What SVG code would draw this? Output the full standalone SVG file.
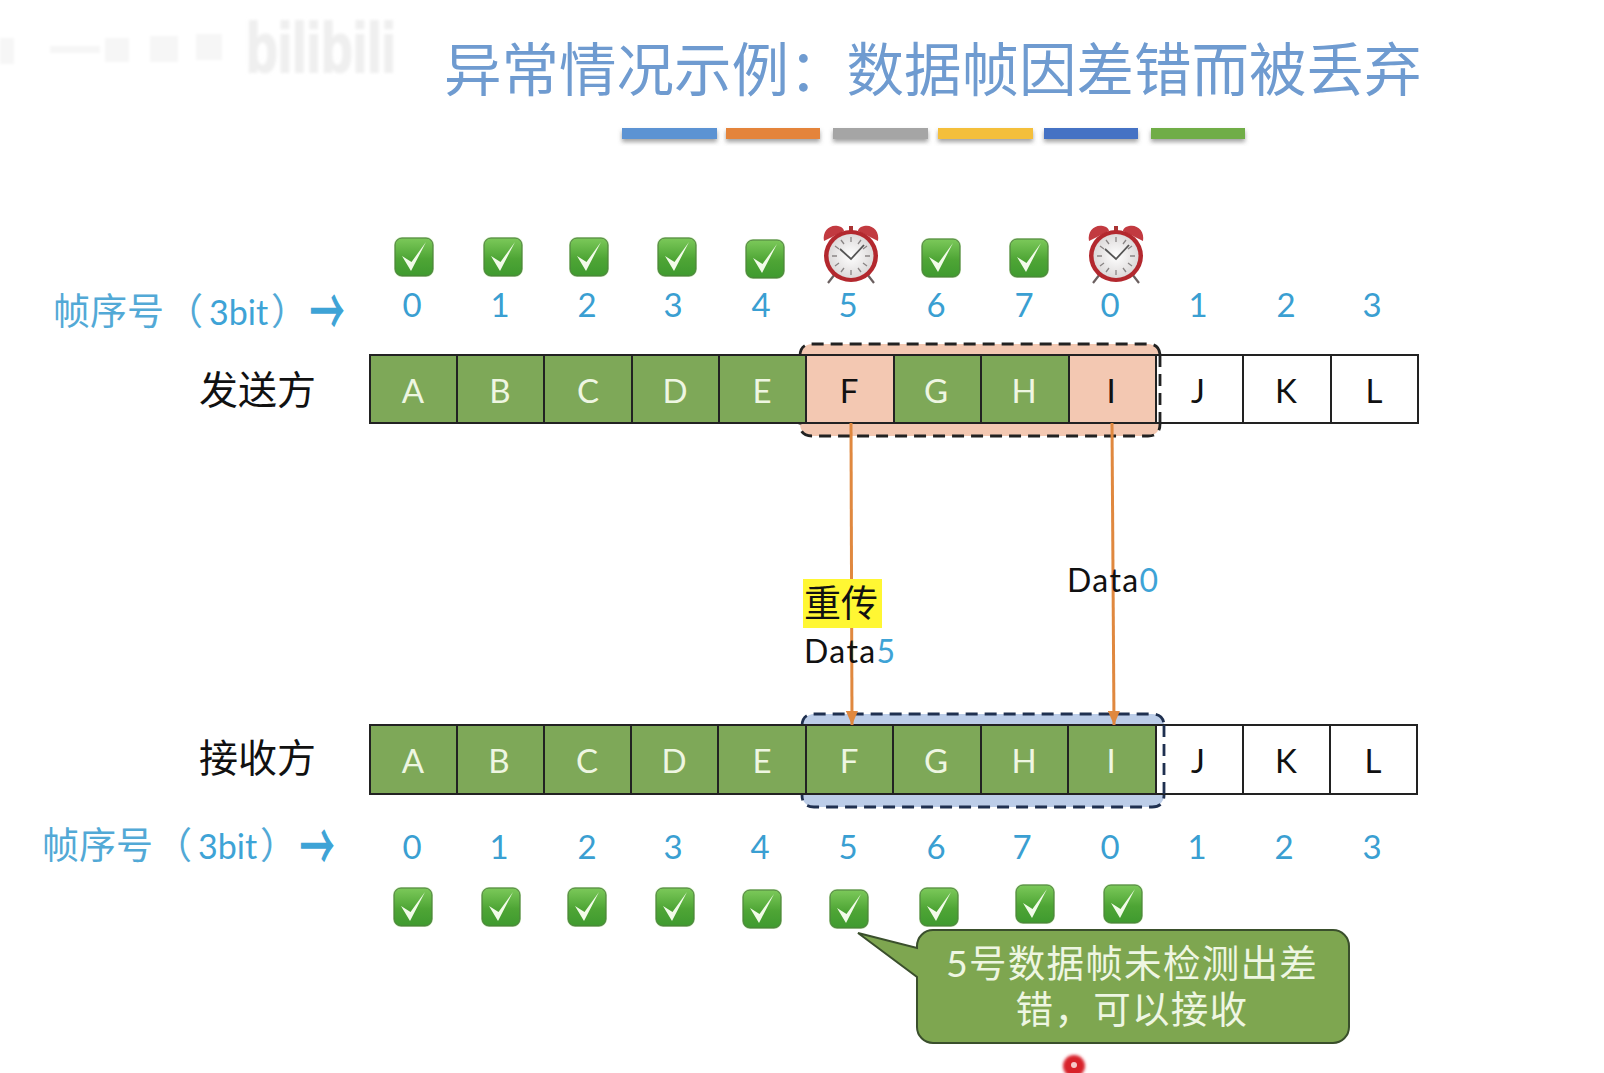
<svg xmlns="http://www.w3.org/2000/svg" width="1604" height="1073" viewBox="0 0 1604 1073">
<style>
text{font-family:Lato,"Noto Sans CJK SC","Liberation Sans",sans-serif}
.cn{font-family:"Noto Sans CJK SC",sans-serif}
.title{font-size:57.5px;fill:#6f9bd0}
.seq{font-size:34px;fill:#3ea3d6}
.seq .h{font-size:37px;font-family:"Noto Sans CJK SC",sans-serif;fill:#52a9d6}
.ar{font-size:34px;font-family:"Noto Sans CJK SC",sans-serif;fill:#3ea3d6;stroke:#3ea3d6;stroke-width:.9}
.num{font-size:33px;fill:#3a9fd2;text-anchor:middle}
.side{font-size:39px;fill:#111}
.cell{stroke:#222;stroke-width:2}
.g{fill:#7ea858}.p{fill:#f3c8b2}.w{fill:#fff}
.lg{font-size:33px;fill:#eef6e2;text-anchor:middle}
.lb{font-size:33px;fill:#111;text-anchor:middle}
.data{font-size:32px;fill:#111;letter-spacing:1.4px}
.link{stroke:#e0883f;stroke-width:3;fill:none;marker-end:url(#ah)}
.bar{filter:url(#sh)}
.co{font-size:37.5px;fill:#eef6e2;text-anchor:middle;letter-spacing:1.3px}
.dash{fill:none;stroke-width:2.8;stroke-dasharray:12 7}
</style>
<defs>
<marker id="ah" markerUnits="userSpaceOnUse" markerWidth="14" markerHeight="12" refX="14" refY="6" orient="auto" viewBox="0 0 14 12"><path d="M0 0 14 6 0 12Z" fill="#e0883f"/></marker>
<linearGradient id="gb" x1="0" y1="0" x2="0" y2="1"><stop offset="0" stop-color="#7cc95a"/><stop offset=".55" stop-color="#4ea535"/><stop offset="1" stop-color="#3f9a2f"/></linearGradient>
<radialGradient id="face" cx=".5" cy=".5" r=".55"><stop offset="0" stop-color="#fff"/><stop offset="1" stop-color="#d9d6d6"/></radialGradient>
<filter id="sh" x="-5%" y="-30%" width="110%" height="190%"><feDropShadow dx="0" dy="3" stdDeviation="2" flood-color="#555" flood-opacity=".55"/></filter>
<filter id="bl2" x="-50%" y="-50%" width="200%" height="200%"><feGaussianBlur stdDeviation="1.4"/></filter>
<symbol id="ok" viewBox="0 0 38 38" overflow="visible">
<rect x="-1" y="-1" width="40" height="40" rx="8" fill="#b6e6a0" opacity=".7"/>
<rect x="0" y="0" width="38" height="38" rx="7" fill="url(#gb)" stroke="#4f7d3f" stroke-width="1"/>
<path d="M7 18 16 33 31 4 16.5 24Z" fill="#f2fbe9"/>
</symbol>
<symbol id="clock" viewBox="0 0 58 60" overflow="visible">
<path d="M13 50 6 59M45 50 52 59" stroke="#6b6060" stroke-width="2.2"/>
<path d="M2 17C0 7 8 0 16 2 21 3 22 6 22 7Z" fill="#c23a40"/>
<path d="M56 17C58 7 50 0 42 2 37 3 36 6 36 7Z" fill="#c23a40"/>
<rect x="27" y="2" width="4" height="5" fill="#a33"/>
<ellipse cx="29" cy="32" rx="27" ry="26" fill="#b3282e"/>
<ellipse cx="29" cy="32" rx="22.5" ry="22" fill="url(#face)"/>
<path d="M29 13v5M29 46v5M10 32h5M43 32h5M19 16l3 4M39 16l-3 4M19 48l3-4M39 48l-3-4M13 22l4 3M45 22l-4 3M13 42l4-3M45 42l-4-3" stroke="#8a8585" stroke-width="1.3"/>
<path d="M18 25 29 35 42 21" stroke="#555" stroke-width="1.8" fill="none"/>
</symbol>
</defs>
<rect width="1604" height="1073" fill="#fff"/>

<g id="watermark">
<text x="246" y="72" font-size="70" fill="#efefef" stroke="#efefef" stroke-width="2" filter="url(#bl2)" textLength="150" lengthAdjust="spacingAndGlyphs" style="font-family:'Liberation Sans',sans-serif;font-weight:700">bilibili</text>
<g fill="#f6f6f6" filter="url(#bl2)"><rect x="0" y="38" width="14" height="26"/><rect x="50" y="46" width="50" height="7"/><rect x="105" y="38" width="24" height="24"/><rect x="150" y="36" width="28" height="26"/><rect x="196" y="34" width="26" height="26"/></g>
</g>

<g id="title"><text class="title cn" x="444" y="91">异常情况示例：数据帧因差错而被丢弃</text></g>
<g id="title-bars">
<rect class="bar" x="622" y="128" width="95" height="11" fill="#5b93d3"/>
<rect class="bar" x="726" y="128" width="94" height="11" fill="#e4843a"/>
<rect class="bar" x="833" y="128" width="95" height="11" fill="#a5a5a5"/>
<rect class="bar" x="938" y="128" width="95" height="11" fill="#f4bf3a"/>
<rect class="bar" x="1044" y="128" width="94" height="11" fill="#4472c4"/>
<rect class="bar" x="1151" y="128" width="94" height="11" fill="#70ad47"/>
</g>

<g id="sender-status">
<use href="#ok" x="395" y="238" width="38" height="38"/>
<use href="#ok" x="484" y="238" width="38" height="38"/>
<use href="#ok" x="570" y="238" width="38" height="38"/>
<use href="#ok" x="658" y="238" width="38" height="38"/>
<use href="#ok" x="746" y="240" width="38" height="38"/>
<use href="#clock" x="822" y="224" width="58" height="60"/>
<use href="#ok" x="922" y="239" width="38" height="38"/>
<use href="#ok" x="1010" y="239" width="38" height="38"/>
<use href="#clock" x="1087" y="224" width="58" height="60"/>
</g>

<g id="sender-seq-label"><text class="seq" y="325"><tspan class="h" x="53">帧序号</tspan><tspan class="h" x="166">（</tspan><tspan x="209">3bit</tspan><tspan class="h" x="271">）</tspan></text>
<text class="ar" transform="translate(310 334.5) scale(1 1.9)">→</text></g>
<g id="sender-seq">
<text class="num" x="412" y="317">0</text><text class="num" x="500" y="317">1</text><text class="num" x="587" y="317">2</text><text class="num" x="673" y="317">3</text><text class="num" x="761" y="317">4</text><text class="num" x="848" y="317">5</text><text class="num" x="936" y="317">6</text><text class="num" x="1024" y="317">7</text><text class="num" x="1110" y="317">0</text><text class="num" x="1198" y="317">1</text><text class="num" x="1286" y="317">2</text><text class="num" x="1372" y="317">3</text>
</g>

<g id="sender-label"><text class="side cn" x="199" y="404">发送方</text></g>

<g id="sender-window"><rect x="800" y="344" width="360" height="92" rx="12" fill="#f3c8b2"/>
<path class="dash" stroke="#222" d="M800 356Q800 344 812 344H1148Q1160 344 1160 356V424Q1160 436 1148 436H812Q800 436 800 424"/></g>
<g id="sender-frames">
<g id="s-A"><rect class="cell g" x="370" y="355" width="87" height="68"/><text class="lg" x="413" y="403">A</text></g>
<g id="s-B"><rect class="cell g" x="457" y="355" width="87" height="68"/><text class="lg" x="500" y="403">B</text></g>
<g id="s-C"><rect class="cell g" x="544" y="355" width="88" height="68"/><text class="lg" x="588" y="403">C</text></g>
<g id="s-D"><rect class="cell g" x="632" y="355" width="87" height="68"/><text class="lg" x="675" y="403">D</text></g>
<g id="s-E"><rect class="cell g" x="719" y="355" width="87" height="68"/><text class="lg" x="762" y="403">E</text></g>
<g id="s-F"><rect class="cell p" x="806" y="355" width="88" height="68"/><text class="lb" x="849" y="403">F</text></g>
<g id="s-G"><rect class="cell g" x="894" y="355" width="87" height="68"/><text class="lg" x="936" y="403">G</text></g>
<g id="s-H"><rect class="cell g" x="981" y="355" width="88" height="68"/><text class="lg" x="1024" y="403">H</text></g>
<g id="s-I"><rect class="cell p" x="1069" y="355" width="87" height="68"/><text class="lb" x="1111" y="403">I</text></g>
<g id="s-J"><rect class="cell w" x="1156" y="355" width="87" height="68"/><text class="lb" x="1198" y="403">J</text></g>
<g id="s-K"><rect class="cell w" x="1243" y="355" width="88" height="68"/><text class="lb" x="1286" y="403">K</text></g>
<g id="s-L"><rect class="cell w" x="1331" y="355" width="87" height="68"/><text class="lb" x="1374" y="403">L</text></g>
</g>
<path class="dash" stroke="#222" d="M1160 355V423"/>

<g id="receiver-label"><text class="side cn" x="199" y="772">接收方</text></g>

<g id="receiver-window"><rect x="802" y="714" width="362" height="93" rx="12" fill="#bccde8"/>
<path class="dash" stroke="#1f3050" d="M802 726Q802 714 814 714H1152Q1164 714 1164 726V795Q1164 807 1152 807H814Q802 807 802 795"/></g>
<g id="receiver-frames">
<g id="r-A"><rect class="cell g" x="370" y="725" width="87" height="69"/><text class="lg" x="413" y="773">A</text></g>
<g id="r-B"><rect class="cell g" x="457" y="725" width="87" height="69"/><text class="lg" x="499" y="773">B</text></g>
<g id="r-C"><rect class="cell g" x="544" y="725" width="87" height="69"/><text class="lg" x="587" y="773">C</text></g>
<g id="r-D"><rect class="cell g" x="631" y="725" width="87" height="69"/><text class="lg" x="674" y="773">D</text></g>
<g id="r-E"><rect class="cell g" x="718" y="725" width="88" height="69"/><text class="lg" x="762" y="773">E</text></g>
<g id="r-F"><rect class="cell g" x="806" y="725" width="87" height="69"/><text class="lg" x="849" y="773">F</text></g>
<g id="r-G"><rect class="cell g" x="893" y="725" width="88" height="69"/><text class="lg" x="936" y="773">G</text></g>
<g id="r-H"><rect class="cell g" x="981" y="725" width="87" height="69"/><text class="lg" x="1024" y="773">H</text></g>
<g id="r-I"><rect class="cell g" x="1068" y="725" width="88" height="69"/><text class="lg" x="1111" y="773">I</text></g>
<g id="r-J"><rect class="cell w" x="1156" y="725" width="87" height="69"/><text class="lb" x="1198" y="773">J</text></g>
<g id="r-K"><rect class="cell w" x="1243" y="725" width="87" height="69"/><text class="lb" x="1286" y="773">K</text></g>
<g id="r-L"><rect class="cell w" x="1330" y="725" width="87" height="69"/><text class="lb" x="1373" y="773">L</text></g>
</g>
<path class="dash" stroke="#1f3050" d="M1164 725V794"/>

<g id="connectors">
<path class="link" d="M851 423 852 725"/>
<path class="link" d="M1112 423 1114 725"/>
</g>

<g id="label-f">
<rect x="803" y="579" width="79" height="49" fill="#fff733"/>
<text class="cn" x="804" y="617" font-size="37" fill="#111">重传</text>
<text class="data" x="804" y="663">Data<tspan fill="#3ea3d6">5</tspan></text>
</g>
<g id="label-i"><text class="data" x="1067" y="592">Data<tspan fill="#3ea3d6">0</tspan></text></g>

<g id="receiver-seq-label"><text class="seq" y="859"><tspan class="h" x="42">帧序号</tspan><tspan class="h" x="155">（</tspan><tspan x="198">3bit</tspan><tspan class="h" x="260">）</tspan></text>
<text class="ar" transform="translate(300 870) scale(1 1.9)">→</text></g>
<g id="receiver-seq">
<text class="num" x="412" y="859">0</text><text class="num" x="499" y="859">1</text><text class="num" x="587" y="859">2</text><text class="num" x="673" y="859">3</text><text class="num" x="760" y="859">4</text><text class="num" x="848" y="859">5</text><text class="num" x="936" y="859">6</text><text class="num" x="1022" y="859">7</text><text class="num" x="1110" y="859">0</text><text class="num" x="1197" y="859">1</text><text class="num" x="1284" y="859">2</text><text class="num" x="1372" y="859">3</text>
</g>

<g id="receiver-status">
<use href="#ok" x="394" y="888" width="38" height="38"/>
<use href="#ok" x="482" y="888" width="38" height="38"/>
<use href="#ok" x="568" y="888" width="38" height="38"/>
<use href="#ok" x="656" y="888" width="38" height="38"/>
<use href="#ok" x="743" y="890" width="38" height="38"/>
<use href="#ok" x="830" y="890" width="38" height="38"/>
<use href="#ok" x="920" y="888" width="38" height="38"/>
<use href="#ok" x="1016" y="885" width="38" height="38"/>
<use href="#ok" x="1104" y="885" width="38" height="38"/>
</g>

<g id="callout">
<path d="M933 930H1333A16 16 0 0 1 1349 946V1027A16 16 0 0 1 1333 1043H933A16 16 0 0 1 917 1027V977L858 933 917 948V946A16 16 0 0 1 933 930Z" fill="#7ea650" stroke="#3a4f2c" stroke-width="2"/>
<text class="co" x="1132" y="977">5号数据帧未检测出差</text>
<text class="co" x="1132" y="1023">错，可以接收</text>
</g>

<g id="pointer-dot">
<circle cx="1074" cy="1066" r="11" fill="#d8202c" filter="url(#bl2)"/>
<circle cx="1074" cy="1065" r="3" fill="#f6c9c9"/>
</g>
</svg>
